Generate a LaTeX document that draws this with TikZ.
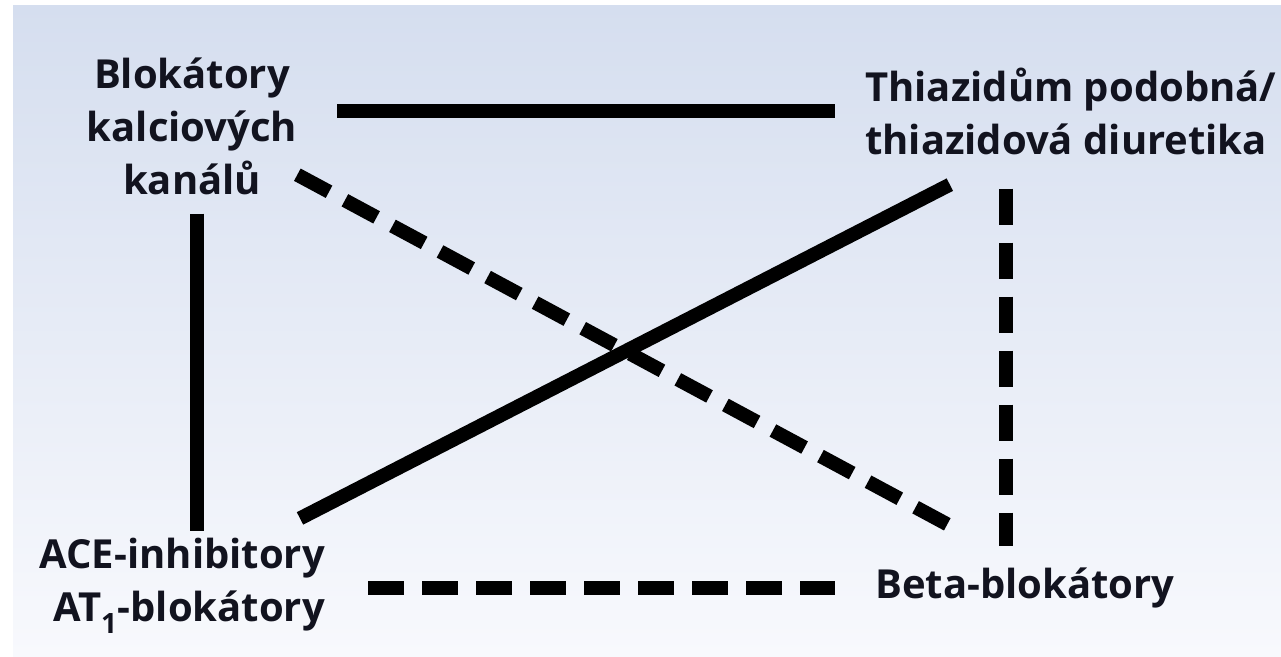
\documentclass[tikz,border=0pt]{standalone}
\usepackage{fontspec}
\setmainfont{Open Sans}
\usepackage{tikz}
\usetikzlibrary{positioning,calc}
\definecolor{bgtop}{HTML}{D5DEEF}
\definecolor{bgbot}{HTML}{F8F9FD}
\definecolor{ink}{HTML}{12131F}
\tikzset{
  drug/.style={inner sep=0pt,text=ink,font=\fontsize{40}{53}\selectfont\bfseries},
  pairline/.style={line width=14pt,black},
  pairdash/.style={line width=14pt,black,dash pattern=on 36pt off 18pt}
}

\begin{document}
\begin{tikzpicture}[x=1pt,y=-1pt]
  \useasboundingbox (0,0) rectangle (1281,656);
  \fill[white] (0,0) rectangle (1281,656);
  \fill[top color=bgtop,bottom color=bgbot] (13,5) rectangle (1281,656);

  \node[drug,align=center] (bkk) at (192,126) {Blokátory\\kalciových\\kanálů};
  \node[drug,align=left,anchor=west] (thz) at (865,111) {Thiazidům podobná/\\thiazidová diuretika};
  \node[drug,align=right,anchor=east] (ace) at (325,586) {ACE-inhibitory\\AT\textsubscript{1}-blokátory};
  \node[drug,anchor=west] (beta) at (875,588) {Beta-blokátory};

  \draw[pairline,shorten <=40pt,shorten >=30pt] (bkk.east |- thz.west) -- (thz.west);
  \draw[pairline,shorten <=19pt,shorten >=7pt] ([xshift=5pt]bkk.south) -- ([xshift=5pt]bkk.south |- ace.north);
  \draw[pairline] ([shift={(-25pt,20pt)}]ace.north east) -- ([shift={(-121pt,-30pt)}]thz.south);
  \draw[pairdash] ([yshift=20pt]bkk.south east) -- ([shift={(86pt,36pt)}]beta.north west);
  \draw[pairdash,shorten <=43pt,shorten >=40pt] (ace.east |- beta.west) -- (beta.west);
  \draw[pairdash,shorten >=22pt] ([shift={(-65pt,-34pt)}]thz.south) -- ([xshift=-65pt]thz.south |- beta.north);
\end{tikzpicture}
\end{document}
